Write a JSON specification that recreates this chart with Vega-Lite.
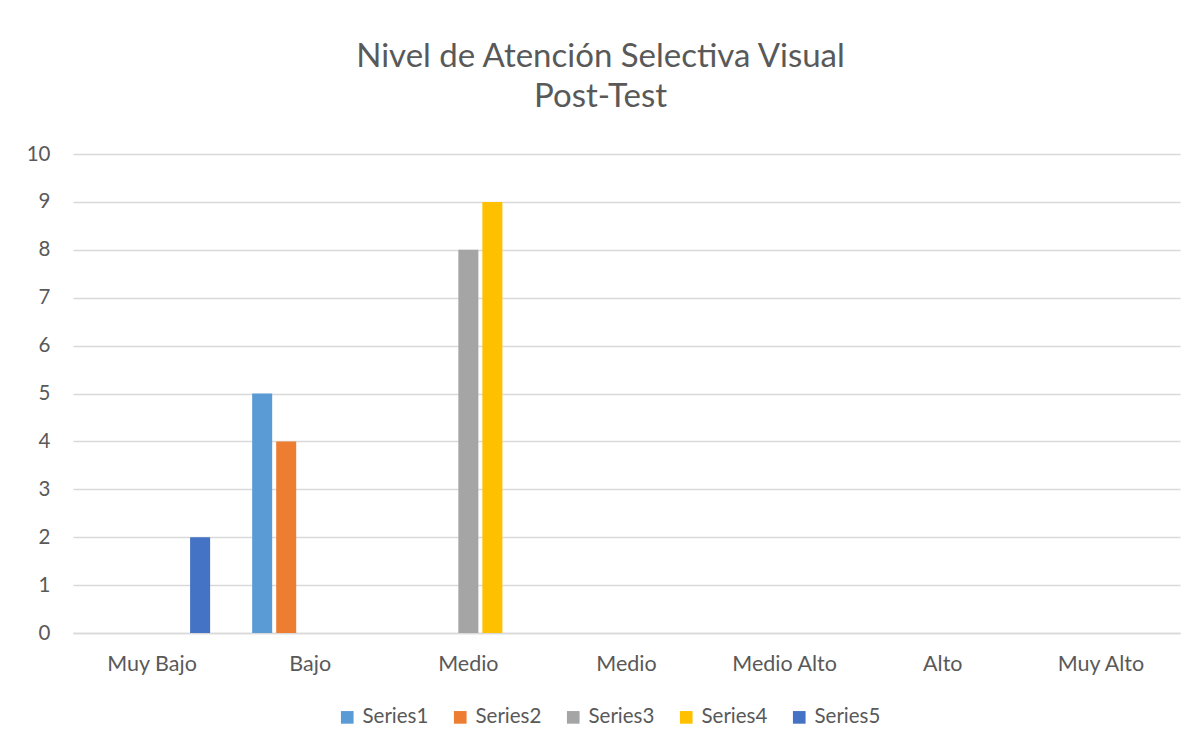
{
  "$schema": "https://vega.github.io/schema/vega-lite/v6.json",
  "autosize": "none",
  "width": 1107,
  "height": 479,
  "padding": {"left": 73, "top": 154, "right": 18, "bottom": 113},
  "background": "#ffffff",
  "title": {
    "text": ["Nivel de Atención Selectiva Visual", "Post-Test"],
    "font": "Lato",
    "fontSize": 33,
    "fontWeight": "normal",
    "color": "#595959",
    "anchor": "middle",
    "lineHeight": 40,
    "offset": 30,
    "dx": -26
  },
  "data": {
    "values": [
      {"nivel": "Muy Bajo", "serie": "Series5", "valor": 2},
      {"nivel": "Bajo", "serie": "Series1", "valor": 5},
      {"nivel": "Bajo", "serie": "Series2", "valor": 4},
      {"nivel": "Medio", "serie": "Series3", "valor": 8},
      {"nivel": "Medio", "serie": "Series4", "valor": 9}
    ]
  },
  "mark": {"type": "bar"},
  "encoding": {
    "x": {
      "field": "nivel",
      "type": "nominal",
      "scale": {
        "domain": ["Muy Bajo", "Bajo", "Medio", "Medio ", "Medio Alto", "Alto", "Muy Alto"],
        "paddingInner": 0,
        "paddingOuter": 0
      },
      "axis": {
        "title": null,
        "labelAngle": 0,
        "labelFont": "Lato",
        "labelFontSize": 21.5,
        "labelColor": "#595959",
        "labelPadding": 20,
        "ticks": false,
        "domain": true,
        "domainColor": "#D9D9D9",
        "domainWidth": 1.5,
        "grid": false
      }
    },
    "xOffset": {
      "field": "serie",
      "type": "nominal",
      "scale": {
        "domain": ["Series1", "Series2", "Series3", "Series4", "Series5"],
        "paddingInner": 0.1667,
        "paddingOuter": 0.875
      }
    },
    "y": {
      "field": "valor",
      "type": "quantitative",
      "scale": {"domain": [0, 10], "nice": false},
      "axis": {
        "title": null,
        "values": [0, 1, 2, 3, 4, 5, 6, 7, 8, 9, 10],
        "labelFont": "Lato",
        "labelFontSize": 20.5,
        "labelColor": "#595959",
        "labelPadding": 23,
        "ticks": false,
        "domain": false,
        "grid": true,
        "gridColor": "#D9D9D9",
        "gridWidth": 1.5
      }
    },
    "color": {
      "field": "serie",
      "type": "nominal",
      "scale": {
        "domain": ["Series1", "Series2", "Series3", "Series4", "Series5"],
        "range": ["#5B9BD5", "#ED7D31", "#A5A5A5", "#FFC000", "#4472C4"]
      },
      "legend": {
        "title": null,
        "orient": "none",
        "direction": "horizontal",
        "legendX": 264,
        "legendY": 553,
        "symbolType": "square",
        "symbolSize": 160,
        "symbolStrokeWidth": 0,
        "labelFont": "Lato",
        "labelFontSize": 20.5,
        "labelColor": "#595959",
        "labelOffset": 5,
        "columnPadding": 21
      }
    }
  },
  "config": {
    "view": {"stroke": null}
  }
}
